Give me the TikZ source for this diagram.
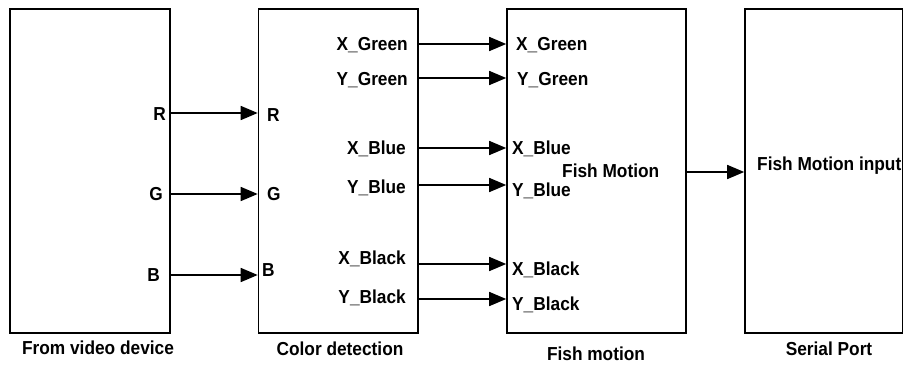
\documentclass[tikz,border=0pt]{standalone}
\usepackage{fontspec}
\setmainfont[FakeStretch=0.92]{Liberation Sans}
\usetikzlibrary{arrows.meta}
\begin{document}
\begin{tikzpicture}[x=1pt,y=-1pt,
  block/.style={draw,line width=1.6pt,minimum width=#1,inner sep=0pt,minimum height=324pt},
  lbl/.style={inner sep=0pt,font=\fontsize{18.8}{22}\selectfont\bfseries},
  arr/.style={line width=1.6pt,-{Triangle[length=17pt,width=14pt]}}]
\useasboundingbox (0,0) rectangle (904,364);
% blocks
\node[block=160pt] (video) at (90,171) {};
\node[block=159.5pt] (cd) at (338.25,171) {};
\node[block=179pt] (fm) at (596.5,171) {};
\node[block=157.5pt] (sp) at (823.75,171) {};
% captions
\node[lbl,anchor=base] (capA) at (98,354) {From video device};
\node[lbl,anchor=base] (capB) at (340,355) {Color detection};
\node[lbl,anchor=base] (capC) at (596,360) {Fish motion};
\node[lbl,anchor=base] (capD) at (829,355) {Serial Port};
% video outputs
\node[lbl,anchor=base east] (vR) at (166,120) {R};
\node[lbl,anchor=base east] (vG) at (163,200) {G};
\node[lbl,anchor=base east] (vB) at (160,281) {B};
% colour detection inputs
\node[lbl,anchor=base west] (cR) at (267,121) {R};
\node[lbl,anchor=base west] (cG) at (267,200) {G};
\node[lbl,anchor=base west] (cB) at (262,276) {B};
% colour detection outputs
\node[lbl,anchor=base east] (cXG) at (408,50) {X\_Green};
\node[lbl,anchor=base east] (cYG) at (408,85) {Y\_Green};
\node[lbl,anchor=base east] (cXB) at (406,154) {X\_Blue};
\node[lbl,anchor=base east] (cYB) at (406,193) {Y\_Blue};
\node[lbl,anchor=base east] (cXK) at (406,264) {X\_Black};
\node[lbl,anchor=base east] (cYK) at (406,303) {Y\_Black};
% fish motion inputs
\node[lbl,anchor=base west] (fXG) at (516,50) {X\_Green};
\node[lbl,anchor=base west] (fYG) at (517,85) {Y\_Green};
\node[lbl,anchor=base west] (fXB) at (512,154) {X\_Blue};
\node[lbl,anchor=base west] (fYB) at (512,196) {Y\_Blue};
\node[lbl,anchor=base west] (fXK) at (512,275) {X\_Black};
\node[lbl,anchor=base west] (fYK) at (512,310) {Y\_Black};
\node[lbl,anchor=base west] (fOut) at (562,177) {Fish Motion};
% serial port input
\node[lbl,anchor=base west] (sIn) at (757,170) {Fish Motion input};
% row coordinates of the signals
\coordinate (yR) at (0,113);
\coordinate (yG) at (0,194);
\coordinate (yB) at (0,275);
\coordinate (yXG) at (0,44);
\coordinate (yYG) at (0,78);
\coordinate (yXB) at (0,148);
\coordinate (yYB) at (0,185);
\coordinate (yXK) at (0,264);
\coordinate (yYK) at (0,299);
\coordinate (yFM) at (0,172);
% connectors
\foreach \r in {yR,yG,yB}
  \draw[arr] (video.east |- \r) -- (cd.west |- \r);
\foreach \r in {yXG,yYG,yXB,yYB,yXK,yYK}
  \draw[arr] (cd.east |- \r) -- (fm.west |- \r);
\draw[arr] (fm.east |- yFM) -- (sp.west |- yFM);
\end{tikzpicture}
\end{document}
